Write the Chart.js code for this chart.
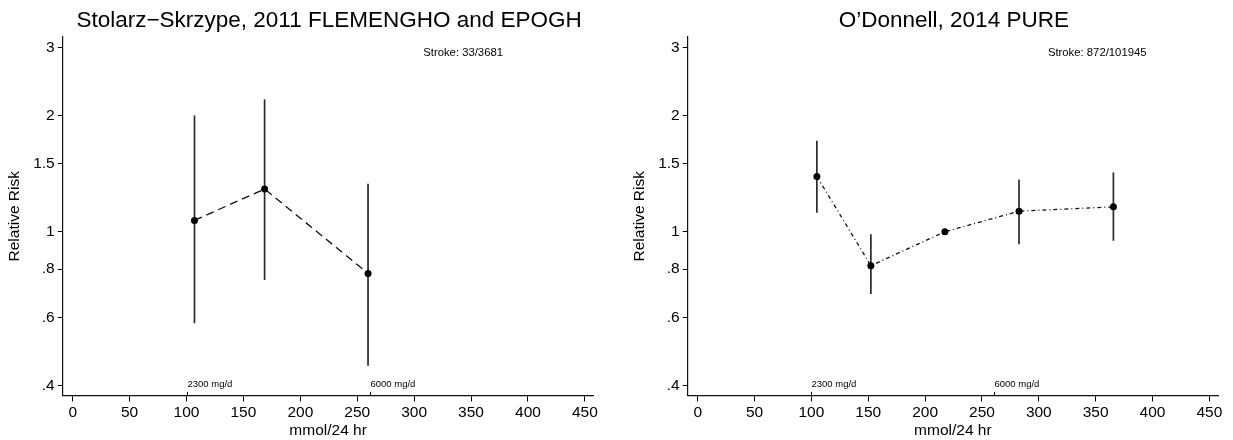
<!DOCTYPE html>
<html>
<head>
<meta charset="utf-8">
<script src="https://cdn.jsdelivr.net/npm/chart.js@4.4.1/dist/chart.umd.min.js"></script>
<style>
  body { margin: 0; background: #fff; }
  .panel { position: absolute; top: 0; height: 440px; }
</style>
</head>
<body>
<div class="panel" style="left:0;width:616px"><canvas id="leftChart"></canvas></div>
<div class="panel" style="left:616px;width:617px"><canvas id="rightChart"></canvas></div>
<script>
// axis ticks
const yTicks = [0.4, 0.6, 0.8, 1, 1.5, 2, 3];
const yTickLabels = ['.4', '.6', '.8', '1', '1.5', '2', '3'];
const xTicks = [0, 50, 100, 150, 200, 250, 300, 350, 400, 450];

// reference markers on the x axis
const markerX = [100, 261];
const markerLabels = ['2300 mg/d', '6000 mg/d'];

// Stolarz-Skrzype 2011
const leftX = [107, 168.6, 259.5];
const leftRR = [1.07, 1.29, 0.78];
const leftLo = [0.58, 0.75, 0.45];
const leftHi = [2.0, 2.2, 1.33];

// O'Donnell 2014
const rightX = [104.8, 152.3, 217.4, 282.6, 365.6];
const rightRR = [1.39, 0.817, 1.0, 1.13, 1.16];
const rightLo = [1.12, 0.69, null, 0.928, 0.948];
const rightHi = [1.72, 0.985, null, 1.366, 1.424];

const FONT = "'Liberation Sans', Arial, Helvetica, sans-serif";

// vertical CI lines, drawn under the points
const errorBars = {
    id: 'errorBars',
    beforeDatasetsDraw(chart) {
        const o = chart.options.plugins.errorBars;
        const ctx = chart.ctx;
        const xs = chart.scales.x, ys = chart.scales.y;
        ctx.save();
        ctx.strokeStyle = '#2a2a2a';
        ctx.lineWidth = 1.7;
        o.x.forEach((x, i) => {
            if (o.lo[i] == null) return;
            const px = xs.getPixelForValue(x);
            ctx.beginPath();
            ctx.moveTo(px, ys.getPixelForValue(o.lo[i]));
            ctx.lineTo(px, ys.getPixelForValue(o.hi[i]));
            ctx.stroke();
        });
        ctx.restore();
    }
};

// title, axis titles, note and the mg/d markers
const panelText = {
    id: 'panelText',
    afterDraw(chart) {
        const o = chart.options.plugins.panelText;
        const { ctx, chartArea } = chart;
        const xs = chart.scales.x;
        const mid = (chartArea.left + chartArea.right) / 2;
        ctx.save();
        ctx.fillStyle = '#000';
        ctx.textBaseline = 'alphabetic';

        ctx.textAlign = 'center';
        ctx.font = '22.5px ' + FONT;
        ctx.fillText(o.title, mid + 1, 27);

        ctx.font = '15.5px ' + FONT;
        ctx.fillText('mmol/24 hr', mid, 435);

        ctx.save();
        ctx.translate(chartArea.left - 44, (chartArea.top + chartArea.bottom) / 2);
        ctx.rotate(-Math.PI / 2);
        ctx.fillText('Relative Risk', 0, 0);
        ctx.restore();

        ctx.textAlign = 'left';
        ctx.font = '11.3px ' + FONT;
        ctx.fillText(o.note, xs.getPixelForValue(308), 55.7);

        ctx.font = '9.5px ' + FONT;
        ctx.strokeStyle = '#000';
        ctx.lineWidth = 1;
        markerX.forEach((m, i) => {
            const px = Math.round(xs.getPixelForValue(m)) + 0.5;
            ctx.beginPath();
            ctx.moveTo(px, chartArea.bottom);
            ctx.lineTo(px, chartArea.bottom - 3.5);
            ctx.stroke();
            ctx.fillText(markerLabels[i], px, 386.5);
        });
        ctx.restore();
    }
};

function makePanel(id, cfg) {
    const tickFont = { family: FONT, size: 15.5 };
    return new Chart(document.getElementById(id), {
        type: 'scatter',
        data: {
            datasets: [{
                data: cfg.x.map((x, i) => ({ x: x, y: cfg.rr[i] })),
                showLine: true,
                borderColor: '#111',
                borderWidth: 1.3,
                borderDash: cfg.dash,
                pointRadius: 3.5,
                pointBackgroundColor: '#000',
                pointBorderWidth: 0,
                pointHoverRadius: 3.5
            }]
        },
        options: {
            responsive: true,
            maintainAspectRatio: false,
            animation: false,
            layout: { padding: { top: 37, right: cfg.padRight, left: 0, bottom: 0 } },
            plugins: {
                legend: { display: false },
                tooltip: { enabled: false },
                errorBars: { x: cfg.x, lo: cfg.lo, hi: cfg.hi },
                panelText: { title: cfg.title, note: cfg.note }
            },
            scales: {
                x: {
                    type: 'linear',
                    min: -8.8,
                    max: 457.6,
                    afterBuildTicks: s => { s.ticks = xTicks.map(v => ({ value: v })); },
                    afterFit: s => { s.height = 44.5; },
                    ticks: { color: '#000', font: tickFont, padding: 2, maxRotation: 0, autoSkip: false },
                    grid: { drawOnChartArea: false, tickLength: 6, color: '#000', lineWidth: 1 },
                    border: { color: '#111', width: 1.2 }
                },
                y: {
                    type: 'logarithmic',
                    min: 0.377,
                    max: 3.19,
                    afterBuildTicks: s => { s.ticks = yTicks.map(v => ({ value: v })); },
                    afterFit: s => { s.width = cfg.axisLeft; },
                    ticks: {
                        color: '#000', font: tickFont, padding: 3, autoSkip: false,
                        callback: (v, i) => yTickLabels[i]
                    },
                    grid: { drawOnChartArea: false, tickLength: 5, color: '#000', lineWidth: 1 },
                    border: { color: '#111', width: 1.2 }
                }
            }
        },
        plugins: [errorBars, panelText]
    });
}

makePanel('leftChart', {
    x: leftX, rr: leftRR, lo: leftLo, hi: leftHi,
    dash: [8, 5],
    title: 'Stolarz\u2212Skrzype, 2011 FLEMENGHO and EPOGH',
    note: 'Stroke: 33/3681',
    axisLeft: 62.7,
    padRight: 22.5
});

makePanel('rightChart', {
    x: rightX, rr: rightRR, lo: rightLo, hi: rightHi,
    dash: [4, 3, 1, 3],
    title: 'O\u2019Donnell, 2014 PURE',
    note: 'Stroke: 872/101945',
    axisLeft: 71.7,
    padRight: 15
});
</script>
</body>
</html>
